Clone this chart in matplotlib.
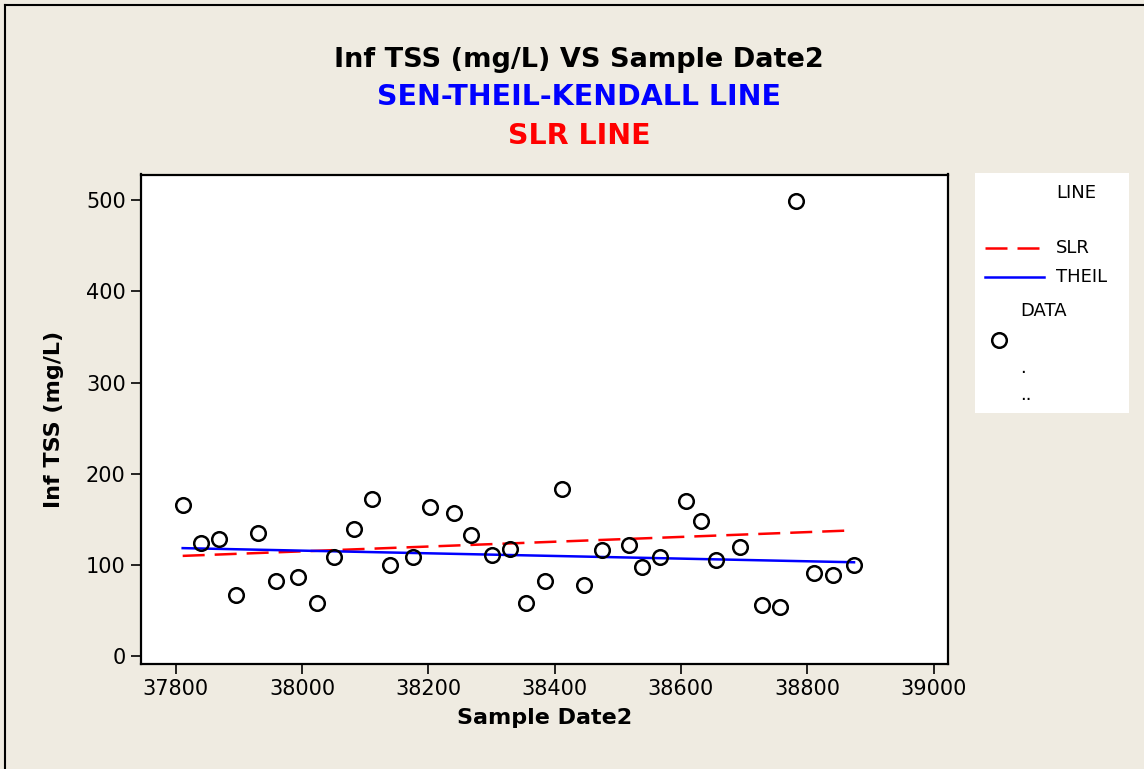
import matplotlib
matplotlib.use("Agg")
import matplotlib.pyplot as plt
from matplotlib.lines import Line2D

plt.rcParams['font.family'] = ['DejaVu Sans']

# Sample dates (serial day numbers) and influent TSS readings
sample_date = [37811, 37840, 37868, 37896, 37931, 37959, 37994, 38023, 38051,
               38083, 38111, 38140, 38175, 38203, 38241, 38267, 38301, 38330,
               38355, 38384, 38411, 38447, 38475, 38517, 38539, 38567, 38608,
               38631, 38656, 38694, 38729, 38757, 38782, 38811, 38840, 38874]
inf_tss = [166, 124, 128, 67, 135, 83, 87, 58, 109,
           139, 172, 100, 109, 164, 157, 133, 111, 117,
           58, 83, 183, 78, 116, 122, 98, 109, 170,
           148, 106, 120, 56, 54, 499, 91, 89, 100]

# Fitted trend lines evaluated at the first and last sample dates
line_dates = [sample_date[0], sample_date[-1]]
slr_fit = [110, 138]
theil_fit = [118.5, 103]

x_ticks = [37800, 38000, 38200, 38400, 38600, 38800, 39000]
y_ticks = [0, 100, 200, 300, 400, 500]

BG = '#EFEBE1'
W, H = 1144, 769

fig = plt.figure(figsize=(W / 100, H / 100), dpi=100, facecolor=BG)

ax = fig.add_axes([141 / W, 1 - 664 / H, (947.5 - 141) / W, (664 - 174.5) / H])
ax.set_facecolor('white')

ax.plot(line_dates, slr_fit, color='red', lw=1.8, dashes=(8.8, 4.0), zorder=2)
ax.plot(line_dates, theil_fit, color='blue', lw=1.8, zorder=2)
ax.plot(sample_date, inf_tss, linestyle='none', marker='o', ms=10.5,
        mfc='none', mec='black', mew=1.8, zorder=3)

ax.set_xlim(37745, 39022)
ax.set_ylim(-8.5, 528)
ax.set_xticks(x_ticks)
ax.set_yticks(y_ticks)
ax.tick_params(axis='both', direction='out', length=7, width=1.2,
               color='black', labelsize=15, pad=4)
for s in ax.spines.values():
    s.set_linewidth(1.6)
    s.set_color('black')

ax.set_xlabel('Sample Date2', fontsize=16, fontweight='bold', labelpad=6)
ax.set_ylabel('Inf TSS (mg/L)', fontsize=16, fontweight='bold', labelpad=16)

# Titles
fig.text(579 / W, 1 - 60 / H, 'Inf TSS (mg/L) VS Sample Date2', ha='center',
         va='center', fontsize=19.5, fontweight='bold', color='black')
fig.text(579 / W, 1 - 97 / H, 'SEN-THEIL-KENDALL LINE', ha='center',
         va='center', fontsize=20.5, fontweight='bold', color='blue')
fig.text(579 / W, 1 - 136 / H, 'SLR LINE', ha='center',
         va='center', fontsize=20.5, fontweight='bold', color='red')

# Legend panel
lg = fig.add_axes([975 / W, 1 - 413 / H, (1129 - 975) / W, (413 - 173) / H])
lg.set_facecolor('white')
lg.set_xlim(975, 1129)
lg.set_ylim(413, 173)
lg.set_xticks([])
lg.set_yticks([])
for s in lg.spines.values():
    s.set_visible(False)

fs = 13
lg.text(1056, 193, 'LINE', fontsize=fs, va='center', ha='left')
lg.add_line(Line2D([985, 1039], [248, 248], color='red', lw=1.8,
                   dashes=(8.8, 4.0)))
lg.text(1056, 248, 'SLR', fontsize=fs, va='center', ha='left')
lg.add_line(Line2D([985, 1044], [277, 277], color='blue', lw=1.8))
lg.text(1056, 277, 'THEIL', fontsize=fs, va='center', ha='left')
lg.text(1020, 311, 'DATA', fontsize=fs, va='center', ha='left')
lg.add_line(Line2D([999], [340], linestyle='none', marker='o', ms=10.5,
                   mfc='none', mec='black', mew=1.8))
lg.text(1020, 368, '.', fontsize=fs, va='center', ha='left')
lg.text(1020, 395, '..', fontsize=fs, va='center', ha='left')

# Frame on the left and top edges of the figure
fig.add_artist(Line2D([4.5 / W, 4.5 / W], [0, 1 - 4.5 / H], color='black',
                      lw=1.5, transform=fig.transFigure))
fig.add_artist(Line2D([4.5 / W, 1], [1 - 4.5 / H, 1 - 4.5 / H], color='black',
                      lw=1.5, transform=fig.transFigure))

fig.savefig('out.png', dpi=100, facecolor=BG)
